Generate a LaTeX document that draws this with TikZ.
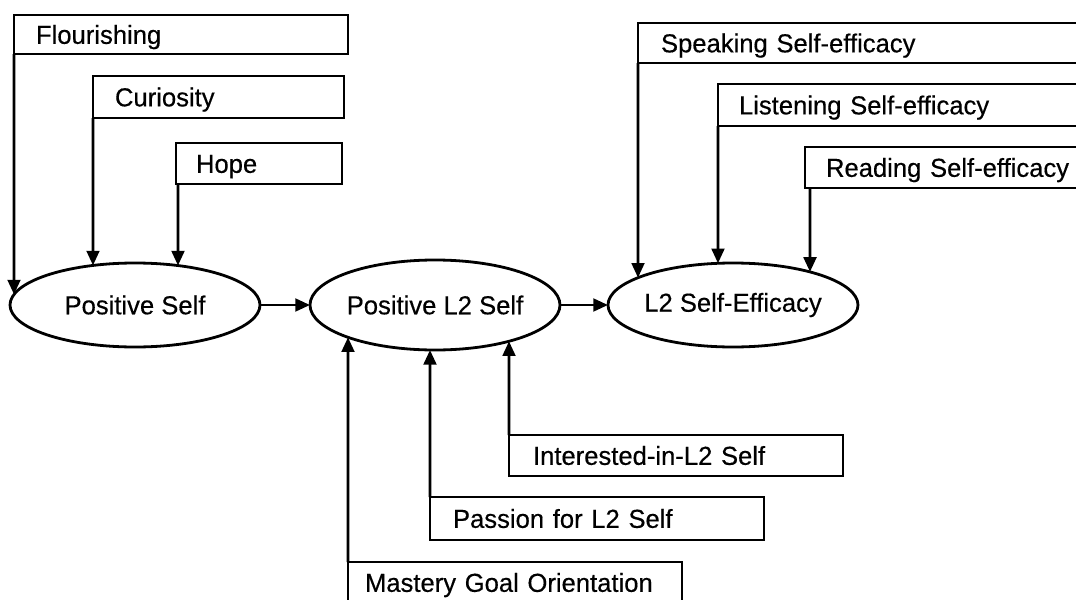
\documentclass[tikz,border=0pt]{standalone}
\usepackage{fontspec}
\setmainfont{Liberation Sans}[FakeStretch=0.985,FakeBold=0.4]
\usetikzlibrary{arrows.meta,intersections,shapes.geometric}

\begin{document}
\begin{tikzpicture}[x=0.75pt,y=-0.75pt,
  every node/.style={font=\fontsize{19.5pt}{23pt}\selectfont},
  box/.style={draw, line width=2.1pt, outer sep=0pt, anchor=north west,
    inner ysep=0pt, align=left, text height=14pt, text depth=0pt,
    execute at begin node=\hbox\bgroup, execute at end node=\egroup},
  latent/.style={draw, ellipse, line width=2.1pt, outer sep=0pt,
    inner xsep=-10pt, inner ysep=0pt, minimum width=187.5pt},
  link/.style={line width=2.1pt, -{Triangle[length=11pt,width=9.5pt]}}
]
\clip (0,0) rectangle (1076,600);
\fill[white] (0,0) rectangle (1076,600);

% latent constructs
\node[latent, minimum height=63pt, name path=psP] (ps) at (135,305) {Positive Self};
\node[latent, minimum height=67.5pt, name path=plP] (pl) at (435,305) {Positive L2 Self};
\node[latent, minimum height=63pt, name path=seP] (se) at (733,305) {L2 Self-Efficacy};

% predictors of the positive self
\node[box, minimum height=29.25pt, inner xsep=16.5pt, text width=217.5pt] (fl) at (14,15) {Flourishing};
\node[box, minimum height=31.5pt, inner xsep=16.5pt, text width=155.25pt] (cu) at (93,76) {Curiosity};
\node[box, minimum height=30.75pt, inner xsep=15pt, text width=94.5pt] (ho) at (176,143) {Hope};

% self-efficacy facets
\node[box, minimum height=30pt, inner xsep=17.25pt, text width=349.5pt] (sp) at (638,23) {Speaking Self-efficacy};
\node[box, minimum height=31.5pt, inner xsep=15.75pt, text width=292.5pt] (li) at (718,84) {Listening Self-efficacy};
\node[box, minimum height=30.75pt, inner xsep=15.75pt, text width=225.75pt] (rd) at (805,147) {Reading Self-efficacy};

% predictors of the positive L2 self
\node[box, minimum height=30.75pt, inner xsep=18pt, text width=214.5pt] (in) at (509,435) {Interested-in-L2 Self};
\node[box, minimum height=32.25pt, inner xsep=17.25pt, text width=216pt] (pa) at (430,497) {Passion for L2 Self};
\node[box, minimum height=30.75pt, inner xsep=12.75pt, text width=225pt] (ms) at (348,562) {Mastery Goal Orientation};

% downward links into the ellipses
\path[name path=vfl] (fl.south west) -- ++(0,300);
\draw[link, name intersections={of=vfl and psP, sort by=vfl, name=ifl}] (fl.south west) -- (ifl-1);
\path[name path=vcu] (cu.south west) -- ++(0,300);
\draw[link, name intersections={of=vcu and psP, sort by=vcu, name=icu}] (cu.south west) -- (icu-1);
\coordinate (hoa) at ([xshift=1.5pt]ho.south west);
\path[name path=vho] (hoa) -- ++(0,300);
\draw[link, name intersections={of=vho and psP, sort by=vho, name=iho}] (hoa) -- (iho-1);

\path[name path=vsp] (sp.south west) -- ++(0,300);
\draw[link, name intersections={of=vsp and seP, sort by=vsp, name=isp}] (sp.south west) -- (isp-1);
\path[name path=vli] (li.south west) -- ++(0,300);
\draw[link, name intersections={of=vli and seP, sort by=vli, name=ili}] (li.south west) -- (ili-1);
\coordinate (rda) at ([xshift=3.75pt]rd.south west);
\path[name path=vrd] (rda) -- ++(0,300);
\draw[link, name intersections={of=vrd and seP, sort by=vrd, name=ird}] (rda) -- (ird-1);

% upward links into the positive L2 self
\path[name path=vms] (ms.north west) -- ++(0,-300);
\draw[link, name intersections={of=vms and plP, sort by=vms, name=ims}] (ms.north west) -- (ims-1);
\path[name path=vpa] (pa.north west) -- ++(0,-300);
\draw[link, name intersections={of=vpa and plP, sort by=vpa, name=ipa}] (pa.north west) -- (ipa-1);
\path[name path=vin] (in.north west) -- ++(0,-300);
\draw[link, name intersections={of=vin and plP, sort by=vin, name=iin}] (in.north west) -- (iin-1);

% chain of latent constructs
\draw[link] (ps.east) -- (pl.west);
\draw[link] (pl.east) -- (se.west);
\end{tikzpicture}
\end{document}
